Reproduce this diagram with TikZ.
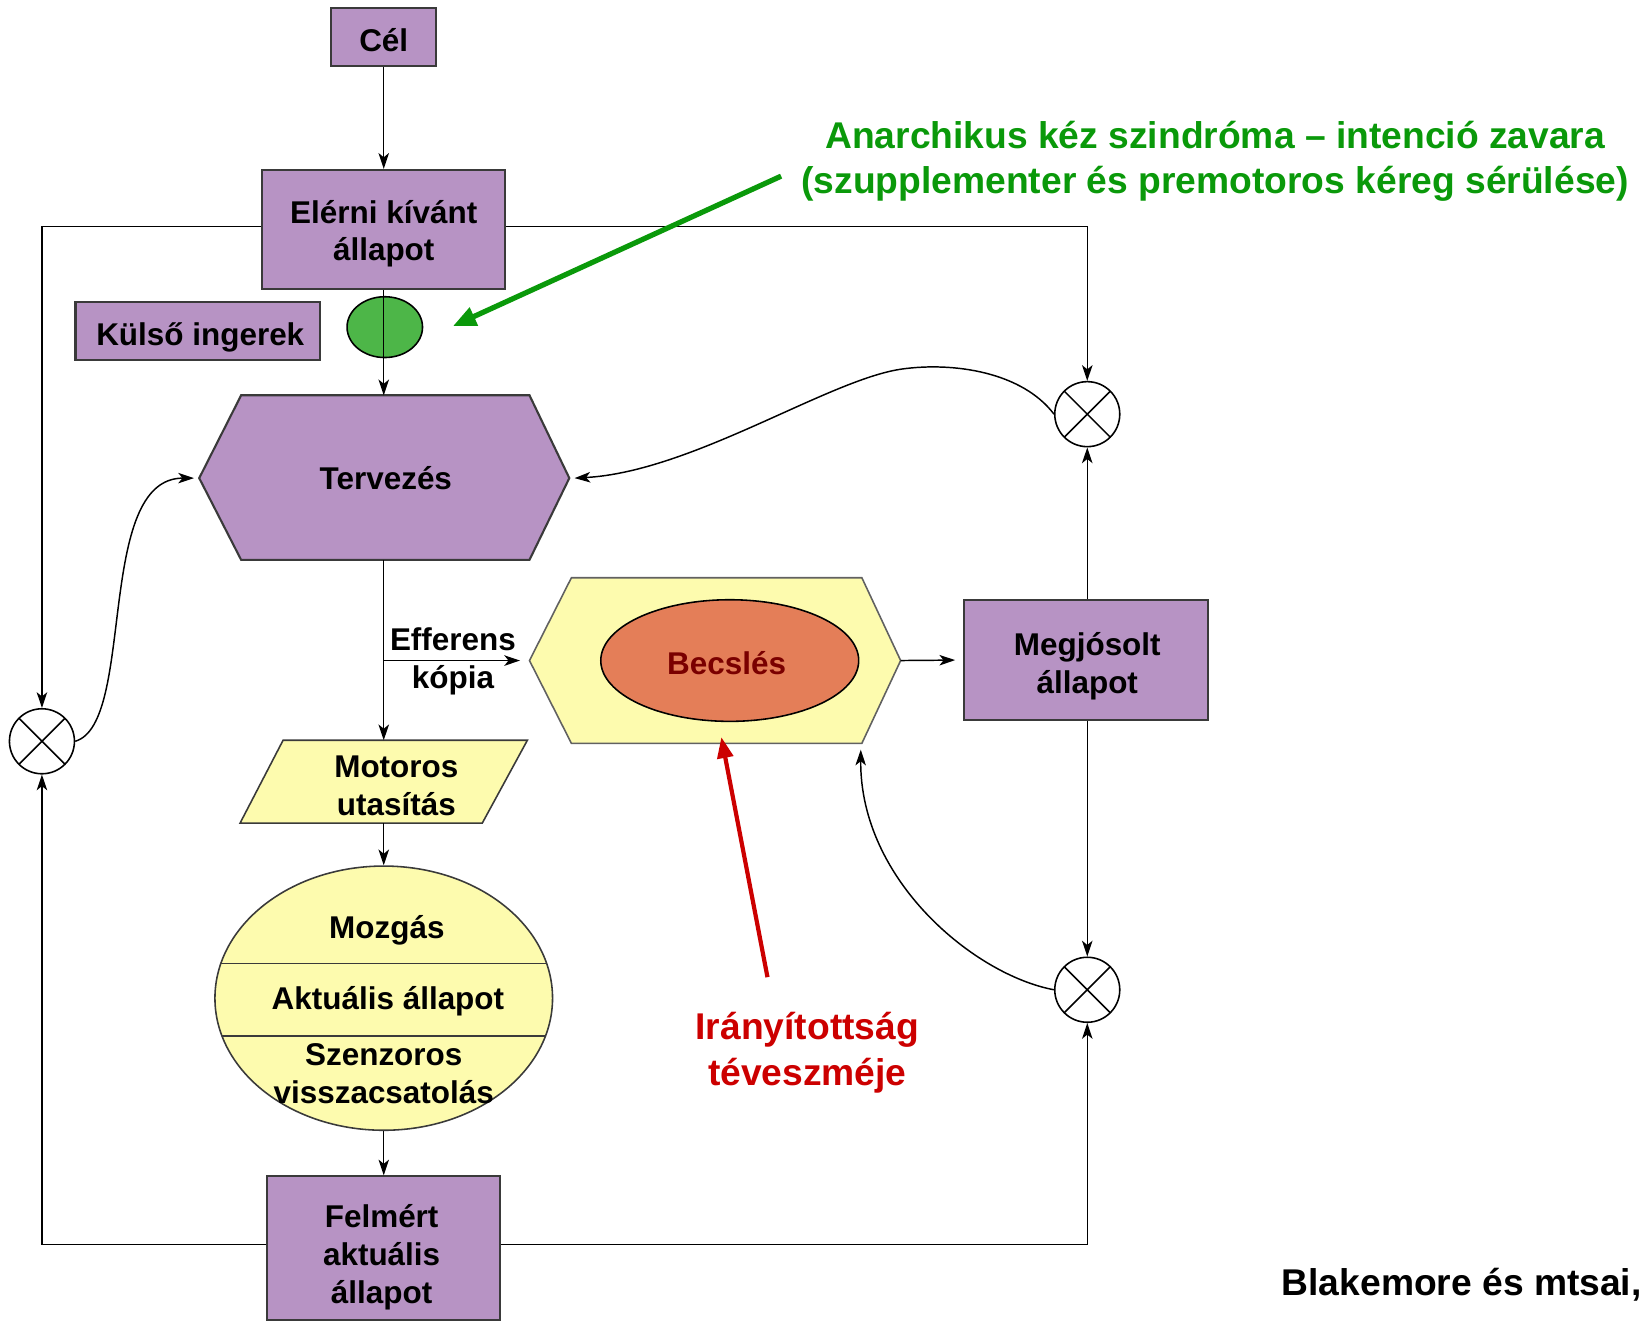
\documentclass[tikz,border=0pt]{standalone}
\usepackage{fontspec}
\setmainfont{Liberation Sans}
\usetikzlibrary{arrows.meta,shapes.geometric,calc}

\definecolor{boxpurple}{HTML}{B793C4}
\definecolor{paleyellow}{HTML}{FDFBAE}
\definecolor{estorange}{HTML}{E47E58}
\definecolor{stimgreen}{HTML}{4DB648}
\definecolor{notegreen}{HTML}{0A990A}
\definecolor{notered}{HTML}{CC0000}
\definecolor{estred}{HTML}{7A0000}
\definecolor{edgegray}{HTML}{3A3A3A}

\tikzset{
  lbl/.style={font=\fontsize{30}{36}\selectfont\bfseries, align=center, text=black, inner sep=0pt},
  pbox/.style={draw=edgegray, line width=2pt, fill=boxpurple, inner sep=0pt},
  conn/.style={line width=1.4pt, -{Stealth[length=15pt,width=10pt,inset=4pt]}},
  note/.style={font=\fontsize{35.5}{43}\selectfont\bfseries, align=center, inner sep=0pt},
  xcirc/.style={circle, draw, line width=1.5pt, fill=white, minimum size=62pt, inner sep=0pt,
    path picture={\draw[line width=1.5pt]
      (path picture bounding box.north west) -- (path picture bounding box.south east)
      (path picture bounding box.north east) -- (path picture bounding box.south west);}},
}

\begin{document}
\begin{tikzpicture}[x=1pt,y=-1pt]
\useasboundingbox (0,0) rectangle (1568,1259);

% --- goal and desired state ---
\node[pbox, minimum width=100pt, minimum height=55pt] (cel) at (366,35.5) {};
\node[lbl] (cellbl) at (366,38.5) {Cél};
\node[pbox, minimum width=232pt, minimum height=114pt] (elerni) at (366,219) {};
\node[lbl] (elernilbl) at (366,223) {Elérni kívánt\\állapot};
\node[pbox, minimum width=233pt, minimum height=55pt] (kulso) at (188.5,315.5) {};
\node[lbl] (kulsolbl) at (191,321.5) {Külső ingerek};
\node[ellipse, draw, line width=1.5pt, fill=stimgreen, minimum width=72pt, minimum height=58pt] (stim) at (367,312) {};

% --- planning hexagon ---
\draw[draw=edgegray, line width=2pt, fill=boxpurple]
  (230,377) -- (505,377) -- (543,456) -- (505,534) -- (230,534) -- (190,456) -- cycle;
\node[lbl] (terv) at (368,456) {Tervezés};
\coordinate (tervN) at (366,377);
\coordinate (tervS) at (366,534);
\coordinate (tervE) at (543,456);
\coordinate (tervW) at (190,456);

% --- estimation hexagon ---
\draw[draw=edgegray!80, line width=1.5pt, fill=paleyellow]
  (545,551) -- (822,551) -- (859,630) -- (822,709) -- (545,709) -- (505,630) -- cycle;
\node[ellipse, draw, line width=1.5pt, fill=estorange, minimum width=246pt, minimum height=116pt] (becs) at (696,630) {};
\node[lbl, text=estred] (becslbl) at (693,632) {Becslés};
\coordinate (becsE) at (859,630);
\coordinate (becsW) at (505,630);
\coordinate (becsSE) at (821,715);
\coordinate (becsS) at (688,703);

% --- predicted state ---
\node[pbox, minimum width=233pt, minimum height=115pt] (megj) at (1035.5,629.5) {};
\node[lbl] (megjlbl) at (1037,635.5) {Megjósolt\\állapot};

% --- motor command ---
\draw[draw=edgegray, line width=1.5pt, fill=paleyellow]
  (270,706) -- (503,706) -- (460,785) -- (229,785) -- cycle;
\node[lbl] (motor) at (378,749.5) {Motoros\\utasítás};
\coordinate (motN) at (366,706);
\coordinate (motS) at (366,785);

% --- movement / actual state / sensory feedback ---
\node[ellipse, draw=edgegray, line width=1.5pt, fill=paleyellow, minimum width=322pt, minimum height=252pt] (mozg) at (366,952) {};
\begin{scope}
  \clip (366,952) ellipse [x radius=161, y radius=126];
  \draw[line width=1.5pt, edgegray] (200,919) -- (530,919) (200,988) -- (530,988);
\end{scope}
\node[lbl] (mozgas) at (369,887) {Mozgás};
\node[lbl] (aktualis) at (370,955) {Aktuális állapot};
\node[lbl] (szenz) at (366,1024) {Szenzoros\\visszacsatolás};

% --- estimated actual state ---
\node[pbox, minimum width=222pt, minimum height=137pt] (felmert) at (366,1190.5) {};
\node[lbl] (felmertlbl) at (364,1199) {Felmért\\aktuális\\állapot};

% --- comparators ---
\node[xcirc] (xl) at (40,707) {};
\node[xcirc] (xtr) at (1037,395) {};
\node[xcirc] (xbr) at (1037,944) {};

% --- connectors ---
\draw[conn] (cel) -- (elerni);
\draw[conn] (elerni.south) -- (tervN);
\draw[conn] ([yshift=3pt]elerni.west) -| (xl);
\draw[conn] ([yshift=3pt]elerni.east) -| (xtr);
\draw[conn] ([yshift=3.5pt]felmert.west) -| (xl);
\draw[conn] ([yshift=3.5pt]felmert.east) -| (xbr);
\draw[conn] (megj.north -| xtr) -- (xtr);
\draw[conn] (megj.south -| xbr) -- (xbr);
\draw[conn] (tervS) -- (motN);
\coordinate (eff) at (366,630);
\draw[conn, shorten >=9pt] (eff) -- (becsW);
\node[lbl] (efflbl) at (432,631) {Efferens\\kópia};
\draw[conn] (motS) -- (mozg.north);
\draw[conn] (mozg.south) -- (felmert.north);
\draw[conn, shorten >=7pt] (becsE) -- (megj.west);

\draw[conn] (xtr.west) .. controls (975,355) and (910,345) .. (860,352)
  .. controls (790,362) and (660,450) .. ([xshift=5pt]tervE);
\draw[conn] (xl.east) .. controls (130,690) and (90,456) .. ([xshift=-5pt]tervW);
\draw[conn] (xbr.west) .. controls (930,930) and (820,840) .. (becsSE);

% --- annotations ---
\node[note, text=notegreen] (anarch) at (1159,153.5)
  {Anarchikus kéz szindróma – intenció zavara\\(szupplementer és premotoros kéreg sérülése)};
\coordinate (greenstart) at (745,168);
\coordinate (greenend) at (432,311);
\draw[notegreen, line width=5pt, -{Triangle[length=22pt,width=18pt]}] (greenstart) -- (greenend);

\node[note, text=notered] (illusion) at (770,1004) {Irányítottság\\téveszméje};
\coordinate (redstart) at (732,932);
\draw[notered, line width=4pt, -{Triangle[length=20pt,width=15pt]}] (redstart) -- (becsS);

\node[note, anchor=east] (cite) at (1566,1225) {Blakemore és mtsai,};
\end{tikzpicture}
\end{document}
